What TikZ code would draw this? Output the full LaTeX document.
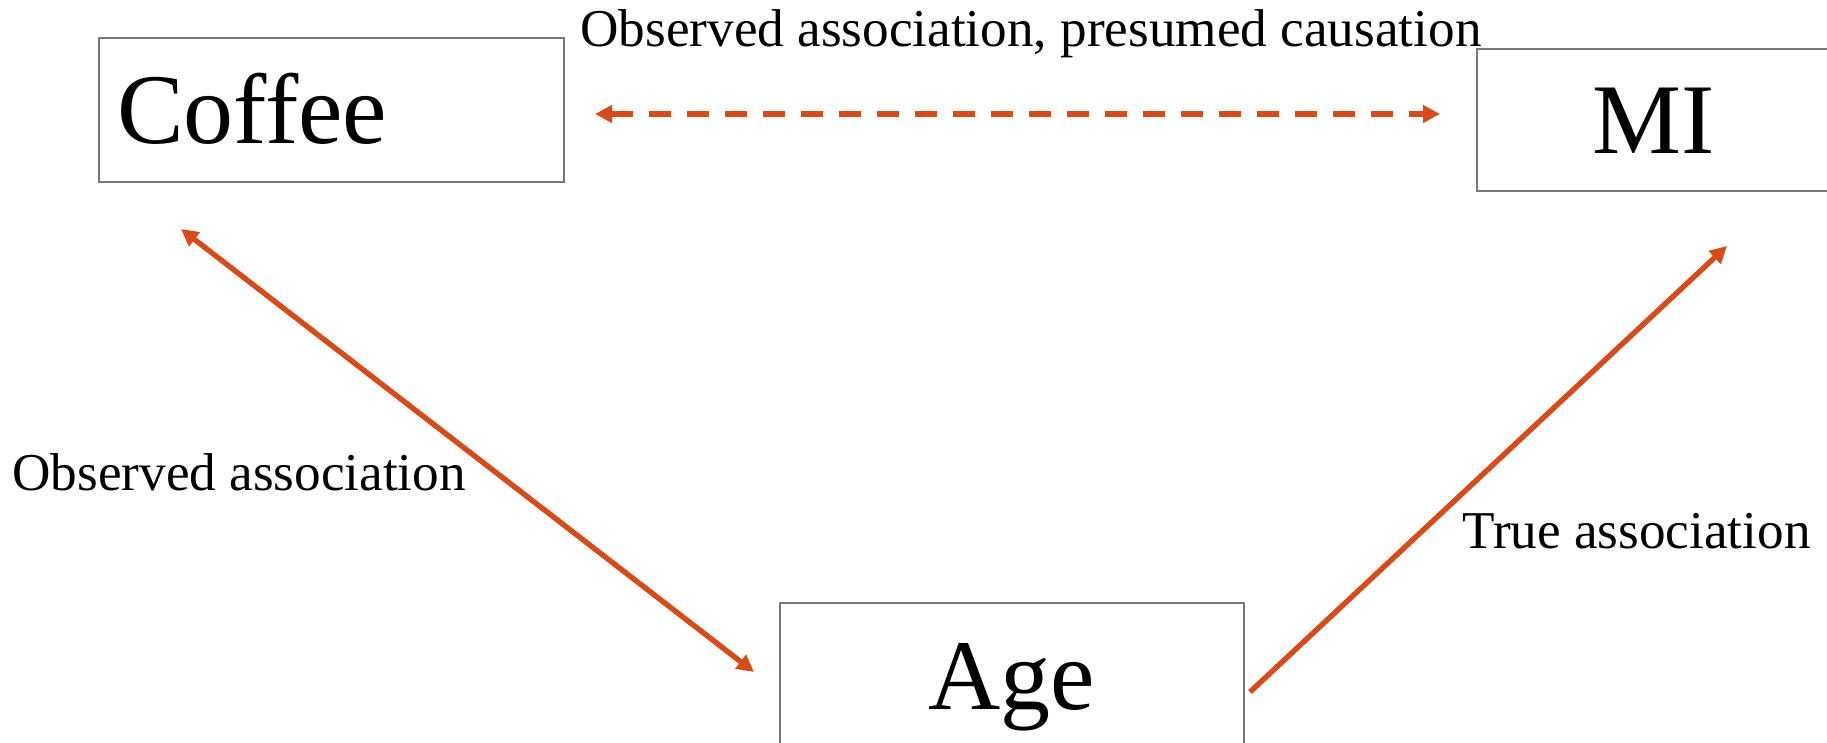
\documentclass[tikz,border=0pt]{standalone}
\usepackage{fontspec}
\setmainfont{Liberation Serif}
\usetikzlibrary{arrows.meta,calc}
\definecolor{linkorange}{RGB}{214,75,26}
\definecolor{boxgray}{RGB}{120,120,120}
\begin{document}
\begin{tikzpicture}[x=0.5pt,y=-0.5pt,
  box/.style={draw=boxgray,line width=1pt,inner sep=0pt,
    font=\fontsize{50}{60}\selectfont,text height=34pt,text depth=0pt},
  note/.style={font=\fontsize{26.6}{32}\selectfont,inner sep=0pt,anchor=base west},
  link/.style={draw=linkorange,line width=2.7pt},
  tip/.tip={Triangle[length=8.5pt,width=8.5pt]}]
\useasboundingbox (0,0) rectangle (1827,743);
\clip (0,0) rectangle (1827,743);

% variables
\node[box,minimum width=232.5pt,minimum height=72pt,text width=214.5pt,
  align=left,anchor=north west] (coffee) at (98,37) {Coffee};
\node[box,minimum width=177pt,minimum height=71pt] (mi) at (1654,120) {MI};
\node[box,minimum width=232pt,minimum height=72pt,anchor=north] (age) at (1012,602) {Age};

% end points of the connectors, set off from the boxes
\coordinate (dashstart) at ($(coffee.east)+(30,4)$);
\coordinate (dashend) at ($(mi.west)+(-36,-7)$);

% associations
\draw[link,dash pattern=on 11pt off 8pt,tip-tip]
  (dashstart) -- (dashstart -| dashend);
\draw[link,tip-tip]
  ($(coffee.south west)+(83,46)$) -- ($(age.north west)+(-25,70)$);
\draw[link,-tip]
  ($(age.north east)+(5,90)$) -- ($(mi.south west)+(251,54)$);

% labels
\node[note] (top) at (580,47) {Observed association, presumed causation};
\node[note] (left) at (12,490) {Observed association};
\node[note] (right) at (1462,548) {True association};
\end{tikzpicture}
\end{document}
